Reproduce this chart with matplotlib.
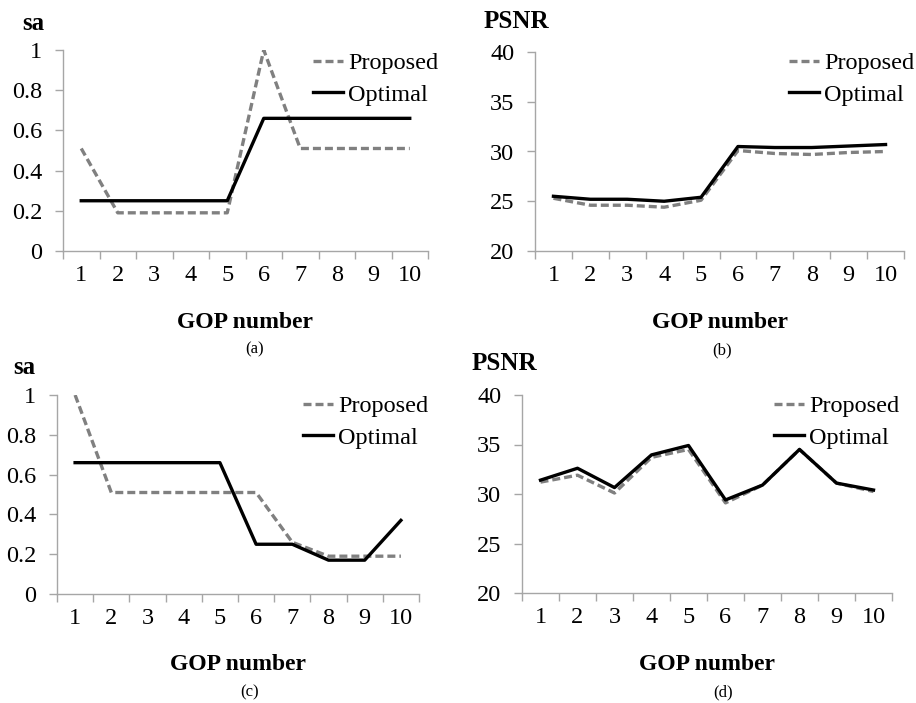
import matplotlib
matplotlib.use("Agg")
import matplotlib.pyplot as plt
from matplotlib.ticker import FixedLocator, NullFormatter

plt.rcParams["font.family"] = ["Liberation Serif", "DejaVu Serif"]

gop = [1, 2, 3, 4, 5, 6, 7, 8, 9, 10]

# (a) sa, sequence 1
sa1_proposed = [0.51, 0.19, 0.19, 0.19, 0.19, 1.0, 0.51, 0.51, 0.51, 0.51]
sa1_optimal = [0.25, 0.25, 0.25, 0.25, 0.25, 0.66, 0.66, 0.66, 0.66, 0.66]
# (b) PSNR, sequence 1
psnr1_proposed = [25.3, 24.6, 24.6, 24.4, 25.1, 30.1, 29.8, 29.7, 29.9, 30.0]
psnr1_optimal = [25.5, 25.2, 25.2, 25.0, 25.4, 30.5, 30.4, 30.4, 30.55, 30.7]
# (c) sa, sequence 2
sa2_proposed = [1.0, 0.51, 0.51, 0.51, 0.51, 0.51, 0.26, 0.19, 0.19, 0.19]
sa2_optimal = [0.66, 0.66, 0.66, 0.66, 0.66, 0.25, 0.25, 0.17, 0.17, 0.37]
# (d) PSNR, sequence 2
psnr2_proposed = [31.2, 31.9, 30.1, 33.7, 34.5, 29.1, 30.9, 34.5, 31.1, 30.25]
psnr2_optimal = [31.4, 32.6, 30.65, 33.95, 34.9, 29.4, 30.9, 34.5, 31.1, 30.4]

W, H = 916, 703
GREY = "#a6a6a6"


def fx(x):
    return x / W


def fy(y):
    return 1 - y / H


def make_axes(fig, left, right, top, bottom):
    return fig.add_axes([fx(left), fy(bottom), fx(right - left), (bottom - top) / H])


def draw_panel(fig, box, proposed, optimal, ylim, yticks, yfmt, ylabel, ylab_xy,
               leg_xy, letter, letter_xy):
    ax = make_axes(fig, *box)
    ax.plot(gop, proposed, color="#808080", linestyle=(0, (2.4, 1.2)), linewidth=2.4,
            label="Proposed")
    ax.plot(gop, optimal, color="black", linewidth=2.4, label="Optimal")

    ax.set_xlim(0.5, 10.5)
    ax.set_ylim(*ylim)
    ax.xaxis.set_major_locator(FixedLocator([i + 0.5 for i in range(0, 11)]))
    ax.xaxis.set_major_formatter(NullFormatter())
    ax.xaxis.set_minor_locator(FixedLocator(gop))
    ax.set_xticklabels([str(g) for g in gop], minor=True)
    ax.tick_params(axis="x", which="major", length=6, width=1, color=GREY, direction="out")
    ax.tick_params(axis="x", which="minor", length=0, pad=10, labelsize=17.5)
    ax.set_yticks(yticks)
    ax.set_yticklabels([yfmt(v) for v in yticks])
    ax.tick_params(axis="y", length=6, width=1, color=GREY, direction="out",
                   pad=9, labelsize=17.5)

    for side in ("top", "right"):
        ax.spines[side].set_visible(False)
    for side in ("left", "bottom"):
        ax.spines[side].set_color(GREY)
        ax.spines[side].set_linewidth(1)

    # axis titles and panel letter
    fig.text(fx(ylab_xy[0]), fy(ylab_xy[1]), ylabel, fontsize=18, fontweight="bold",
             ha="center", va="center")
    cx = (box[0] + box[1]) / 2
    fig.text(fx(cx), fy(box[3] + 71), "GOP number", fontsize=17, fontweight="bold",
             ha="center", va="center")
    fig.text(fx(letter_xy[0]), fy(letter_xy[1]), letter, fontsize=12,
             ha="center", va="center")

    ax.legend(loc="upper left", bbox_to_anchor=(fx(leg_xy[0]), fy(leg_xy[1])),
              bbox_transform=fig.transFigure, frameon=False, fontsize=17.5,
              handlelength=1.25, handletextpad=0.2, labelspacing=0.4,
              borderpad=0, borderaxespad=0)
    return ax


fig = plt.figure(figsize=(W / 100, H / 100), dpi=100)

sa_fmt = lambda v: "0" if v == 0 else ("1" if v == 1 else f"{v:.1f}")
psnr_fmt = lambda v: f"{v:g}"
sa_ticks = [0, 0.2, 0.4, 0.6, 0.8, 1.0]
psnr_ticks = [20, 25, 30, 35, 40]

draw_panel(fig, (63, 428, 50, 251), sa1_proposed, sa1_optimal, (0, 1), sa_ticks,
           sa_fmt, "sa", (33, 24), (313, 52), "(a)", (255, 349))
draw_panel(fig, (535, 904, 52, 251), psnr1_proposed, psnr1_optimal, (20, 40), psnr_ticks,
           psnr_fmt, "PSNR", (516, 21), (789, 52), "(b)", (722, 350))
draw_panel(fig, (57, 419, 395, 594), sa2_proposed, sa2_optimal, (0, 1), sa_ticks,
           sa_fmt, "sa", (24, 367), (303, 395), "(c)", (250, 692))
draw_panel(fig, (522, 892, 395, 593), psnr2_proposed, psnr2_optimal, (20, 40), psnr_ticks,
           psnr_fmt, "PSNR", (504, 363), (774, 395), "(d)", (723, 692))

fig.savefig("out.png", dpi=100)
